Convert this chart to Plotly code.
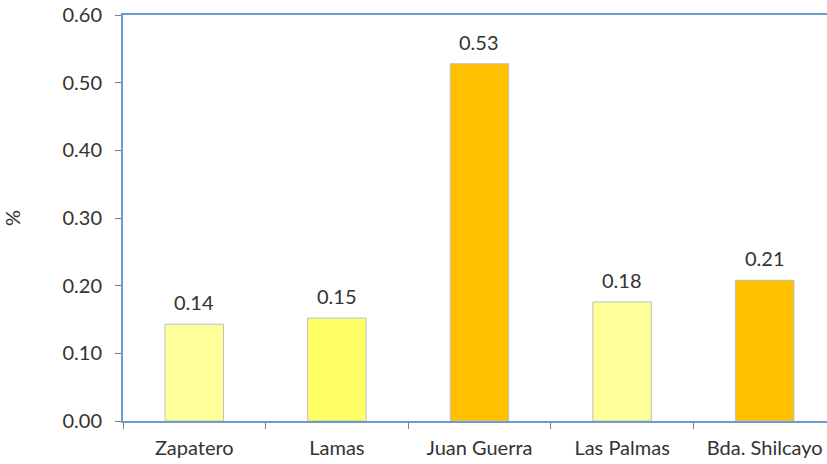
import plotly.graph_objects as go

# Localidades y porcentajes
categories = ["Zapatero", "Lamas", "Juan Guerra", "Las Palmas", "Bda. Shilcayo"]
values = [0.143, 0.152, 0.528, 0.176, 0.208]
bar_colors = ["#FFFF99", "#FFFF66", "#FFC000", "#FFFF99", "#FFC000"]
y_ticks = [0.0, 0.1, 0.2, 0.3, 0.4, 0.5, 0.6]

FONT = "Lato, Open Sans, sans-serif"
TEXT = "#333333"
AXIS_BLUE = "#6F9BC8"
SIZE = 20

fig = go.Figure(
    go.Bar(
        x=categories,
        y=values,
        width=0.41,
        marker=dict(color=bar_colors, line=dict(color="#BFBFBF", width=1)),
        hoverinfo="skip",
    )
)

# value labels above each bar
for c, v in zip(categories, values):
    fig.add_annotation(
        x=c, y=v, text=f"{v:.2f}", showarrow=False,
        yanchor="bottom", yshift=8,
        font=dict(family=FONT, size=SIZE, color=TEXT),
    )

fig.update_layout(
    width=827, height=464,
    margin=dict(l=123, r=0, t=15, b=43),
    paper_bgcolor="white", plot_bgcolor="white",
    showlegend=False,
    font=dict(family=FONT, size=SIZE, color=TEXT),
)

fig.update_xaxes(
    type="category",
    range=[-0.5, 4.437],
    showline=True, linecolor=AXIS_BLUE, linewidth=2, mirror=True,
    ticks="outside", tickson="boundaries", ticklen=6, tickcolor="#808080", tickwidth=1,
    ticklabelstandoff=8,
    showgrid=False, zeroline=False,
    tickfont=dict(family=FONT, size=SIZE, color=TEXT),
)

fig.update_yaxes(
    range=[0, 0.6],
    tickvals=y_ticks,
    ticktext=[f"{t:.2f}" for t in y_ticks],
    showline=True, linecolor=AXIS_BLUE, linewidth=2,
    ticks="outside", ticklen=6, tickcolor="#808080", tickwidth=1,
    ticklabelstandoff=9,
    showgrid=False, zeroline=False,
    tickfont=dict(family=FONT, size=SIZE, color=TEXT),
    title=dict(text="%", font=dict(family=FONT, size=SIZE, color=TEXT), standoff=36),
)

fig.write_html("out.html")
